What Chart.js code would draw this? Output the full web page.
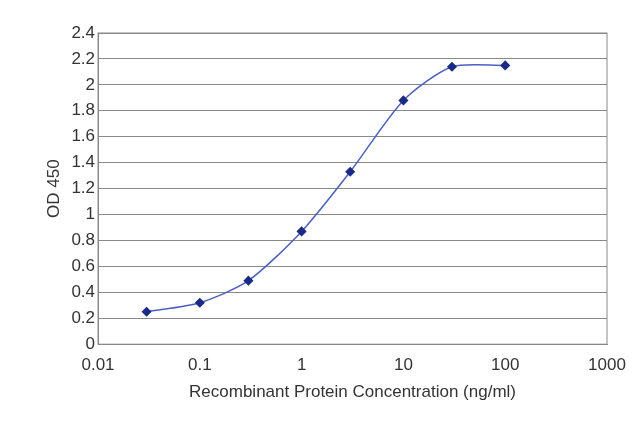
<!DOCTYPE html>
<html><head><script src="https://cdn.jsdelivr.net/npm/chart.js"></script>
<style>body{margin:0;background:#fff}#w{width:640px;height:427px}</style></head>
<body><div id="w"><canvas id="c"></canvas></div>
<script>
const concentrations=[0.03,0.1,0.3,1,3,10,30,100];
const od450=[0.25,0.32,0.49,0.87,1.33,1.88,2.14,2.15];
const xTicks=[0.01,0.1,1,10,100,1000];
const yTicks=[0,0.2,0.4,0.6,0.8,1,1.2,1.4,1.6,1.8,2,2.2,2.4];
new Chart(document.getElementById('c'),{
type:'scatter',
data:{datasets:[{data:concentrations.map((x,i)=>({x,y:od450[i]})),showLine:true,tension:0.25,
borderColor:'#4a5fc8',borderWidth:1.5,backgroundColor:'#1a2a8a',pointBackgroundColor:'#1a2a8a',pointBorderColor:'#1a2a8a',pointStyle:'rectRot',pointRadius:4}]},
options:{responsive:true,maintainAspectRatio:false,animation:false,
layout:{padding:{left:40,right:33,top:33,bottom:20}},
plugins:{legend:{display:false},tooltip:{enabled:false}},
scales:{
x:{type:'logarithmic',min:0.01,max:1000,
afterBuildTicks:s=>{s.ticks=xTicks.map(v=>({value:v}))},
ticks:{callback:v=>String(v),color:'#333',font:{family:'Liberation Sans',size:17},maxRotation:0},
grid:{display:false,drawTicks:true},border:{color:'#888'},
title:{display:true,text:'Recombinant Protein Concentration (ng/ml)',color:'#333',font:{family:'Liberation Sans',size:17}}},
y:{min:0,max:2.4,afterBuildTicks:s=>{s.ticks=yTicks.map(v=>({value:v}))},
ticks:{callback:v=>String(+v.toFixed(1)),color:'#333',font:{family:'Liberation Sans',size:17}},
grid:{color:'#888',drawTicks:false},border:{color:'#888'},
title:{display:true,text:'OD 450',color:'#333',font:{family:'Liberation Sans',size:17}}}
}},
plugins:[{id:'frame',afterDraw(c){const a=c.chartArea,g=c.ctx;g.save();g.strokeStyle='#888';g.lineWidth=1;g.strokeRect(a.left,a.top,a.right-a.left,a.bottom-a.top);g.restore();}}]
});
</script></body></html>
